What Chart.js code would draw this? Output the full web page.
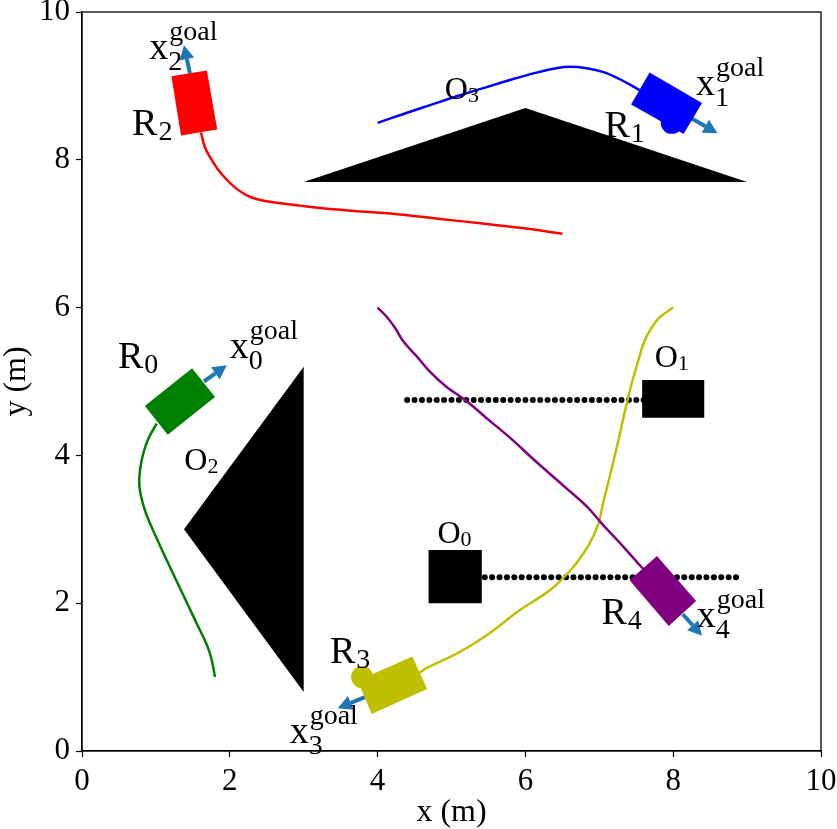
<!DOCTYPE html>
<html>
<head>
<meta charset="utf-8">
<script src="https://cdn.jsdelivr.net/npm/chart.js@4"></script>
<style>
  body { margin: 0; background: #fff; }
  canvas { display: block; }
</style>
</head>
<body>
<canvas id="grafico" width="837" height="829"></canvas>
<script>
const ticksEje = [0, 2, 4, 6, 8, 10];

// trayectorias de los robots
const trayR0x = [1.80, 1.76, 1.70, 1.55, 1.37, 1.19, 1.01, 0.875, 0.81, 0.775, 0.785, 0.83, 0.90, 1.01];
const trayR0y = [1.00, 1.21, 1.41, 1.73, 2.11, 2.49, 2.88, 3.19, 3.40, 3.60, 3.80, 4.03, 4.23, 4.43];
const trayR1x = [4.00, 4.35, 4.71, 5.07, 5.43, 5.79, 6.15, 6.42, 6.60, 6.83, 7.05, 7.28, 7.55];
const trayR1y = [8.50, 8.62, 8.74, 8.86, 8.97, 9.08, 9.18, 9.24, 9.26, 9.24, 9.19, 9.09, 8.94];
const trayR2x = [6.50, 5.93, 5.39, 4.85, 4.30, 3.40, 2.95, 2.50, 2.36, 2.23, 2.09, 1.96, 1.84, 1.73, 1.66, 1.61];
const trayR2y = [7.00, 7.08, 7.14, 7.20, 7.26, 7.33, 7.38, 7.44, 7.47, 7.52, 7.61, 7.73, 7.87, 8.04, 8.18, 8.37];
const trayR3x = [8.00, 7.82, 7.69, 7.60, 7.53, 7.44, 7.35, 7.26, 7.14, 7.05, 6.99, 6.87, 6.69, 6.51, 6.31, 5.93, 5.48, 5.11, 4.66, 4.57];
const trayR3y = [6.00, 5.87, 5.70, 5.52, 5.29, 4.98, 4.61, 4.21, 3.71, 3.35, 3.08, 2.81, 2.54, 2.34, 2.16, 1.91, 1.57, 1.34, 1.12, 1.06];
const trayR4x = [4.00, 4.12, 4.24, 4.35, 4.53, 4.71, 4.93, 5.21, 5.48, 5.79, 6.15, 6.56, 6.83, 7.05, 7.33, 7.57, 7.69];
const trayR4y = [6.00, 5.88, 5.72, 5.54, 5.34, 5.13, 4.93, 4.73, 4.50, 4.24, 3.91, 3.55, 3.31, 3.06, 2.76, 2.49, 2.38];

// cuerpos de los robots (esquinas)
const cuerpoR0x = [1.49, 1.80, 1.16, 0.85];
const cuerpoR0y = [5.18, 4.79, 4.28, 4.67];
const cuerpoR1x = [7.68, 8.39, 8.14, 7.43];
const cuerpoR1y = [9.18, 8.77, 8.35, 8.75];
const cuerpoR2x = [1.21, 1.69, 1.83, 1.34];
const cuerpoR2y = [9.13, 9.21, 8.41, 8.33];
const cuerpoR3x = [4.47, 4.67, 3.92, 3.73];
const cuerpoR3y = [1.28, 0.84, 0.50, 0.95];
const cuerpoR4x = [7.78, 8.31, 7.94, 7.41];
const cuerpoR4y = [2.64, 2.03, 1.69, 2.31];

// ruedas
const ruedaR1x = [7.98];
const ruedaR1y = [8.50];
const ruedaR3x = [3.79];
const ruedaR3y = [1.00];

// flechas hacia la meta: inicio y punta
const flechaIniX = [1.65, 8.25, 1.46, 3.83, 8.13];
const flechaIniY = [5.00, 8.56, 9.17, 0.73, 1.85];
const flechaFinX = [1.96, 8.60, 1.38, 3.46, 8.39];
const flechaFinY = [5.22, 8.36, 9.55, 0.58, 1.56];

// obstaculos
const obs0x = [4.69, 5.41, 5.41, 4.69];
const obs0y = [2.72, 2.72, 2.00, 2.00];
const obs1x = [7.58, 8.42, 8.42, 7.58];
const obs1y = [5.02, 5.02, 4.51, 4.51];
const obs2x = [3.00, 1.38, 3.00];
const obs2y = [5.20, 3.00, 0.80];
const obs3x = [3.00, 6.00, 9.00];
const obs3y = [7.70, 8.70, 7.70];

// rastro de puntos de los obstaculos moviles
const rastro0x = [5.45, 5.55, 5.65, 5.75, 5.85, 5.95, 6.05, 6.15, 6.25, 6.35, 6.45, 6.55, 6.65, 6.75, 6.85, 6.95, 7.05, 7.15, 7.25, 7.35, 7.45, 7.55, 7.65, 7.75, 7.85, 7.95, 8.05, 8.15, 8.25, 8.35, 8.45, 8.55, 8.65, 8.75, 8.85];
const rastro0y = 2.35;
const rastro1x = [4.40, 4.50, 4.60, 4.70, 4.80, 4.90, 5.00, 5.10, 5.20, 5.30, 5.40, 5.50, 5.60, 5.70, 5.80, 5.90, 6.00, 6.10, 6.20, 6.30, 6.40, 6.50, 6.60, 6.70, 6.80, 6.90, 7.00, 7.10, 7.20, 7.30, 7.40, 7.50, 7.60];
const rastro1y = 4.75;

// etiquetas
const subR = ['0', '1', '2', '3', '4'];
const etiquetaRx = [0.487, 7.07, 0.677, 3.355, 7.03];
const etiquetaRy = [5.18, 8.31, 8.335, 1.19, 1.72];
const subO = ['0', '1', '2', '3'];
const etiquetaOx = [4.81, 7.75, 1.385, 4.91];
const etiquetaOy = [2.81, 5.20, 3.80, 8.82];
const subX = ['0', '1', '2', '3', '4'];
const etiquetaXx = [2.00, 8.31, 0.91, 2.81, 8.32];
const etiquetaXy = [5.32, 8.88, 9.37, 0.11, 1.68];

const fuente = '"Liberation Serif"';
const colores = ['#008000', '#0000ff', '#ff0000', '#bfbf00', '#800080'];
const azulFlecha = '#1f77b4';

function puntos(xs, ys) {
    return xs.map((x, i) => ({ x: x, y: Array.isArray(ys) ? ys[i] : ys }));
}

function poligono(xs, ys, color) {
    const p = puntos(xs, ys);
    p.push(p[0]);
    return { data: p, showLine: true, fill: 'shape', backgroundColor: color, borderColor: color, borderWidth: 0, pointRadius: 0, tension: 0 };
}

function linea(xs, ys, color, ancho, tension) {
    return { data: puntos(xs, ys), showLine: true, fill: false, borderColor: color, borderWidth: ancho, pointRadius: 0, tension: tension };
}

function flecha(i) {
    const dx = flechaFinX[i] - flechaIniX[i];
    const dy = flechaFinY[i] - flechaIniY[i];
    const largo = Math.hypot(dx, dy);
    const ux = dx / largo, uy = dy / largo;
    const bx = flechaFinX[i] - ux * 0.19, by = flechaFinY[i] - uy * 0.19;
    return [
        linea([flechaIniX[i], bx], [flechaIniY[i], by], azulFlecha, 4, 0),
        poligono(
            [flechaFinX[i], bx - uy * 0.1, bx + uy * 0.1],
            [flechaFinY[i], by + ux * 0.1, by - ux * 0.1],
            azulFlecha
        )
    ];
}

function circulo(xs, ys, color) {
    return { data: puntos(xs, ys), showLine: false, pointRadius: 11, pointBackgroundColor: color, pointBorderWidth: 0 };
}

function rastro(xs, y) {
    return { data: puntos(xs, y), showLine: false, pointRadius: 3, pointBackgroundColor: '#000', pointBorderWidth: 0 };
}

// en orden de dibujo, del fondo al frente
const capas = [
    rastro(rastro0x, rastro0y),
    rastro(rastro1x, rastro1y),
    poligono(obs0x, obs0y, '#000'),
    poligono(obs1x, obs1y, '#000'),
    poligono(obs2x, obs2y, '#000'),
    poligono(obs3x, obs3y, '#000'),
    linea(trayR0x, trayR0y, colores[0], 2.5, 0.4),
    linea(trayR1x, trayR1y, colores[1], 2.5, 0.4),
    linea(trayR2x, trayR2y, colores[2], 2.5, 0.4),
    linea(trayR3x, trayR3y, colores[3], 2.5, 0.4),
    linea(trayR4x, trayR4y, colores[4], 2.5, 0.4)
];
flechaIniX.forEach((_, i) => capas.push(...flecha(i)));
capas.push(
    poligono(cuerpoR0x, cuerpoR0y, colores[0]),
    poligono(cuerpoR1x, cuerpoR1y, colores[1]),
    poligono(cuerpoR2x, cuerpoR2y, colores[2]),
    poligono(cuerpoR3x, cuerpoR3y, colores[3]),
    poligono(cuerpoR4x, cuerpoR4y, colores[4]),
    circulo(ruedaR1x, ruedaR1y, colores[1]),
    circulo(ruedaR3x, ruedaR3y, colores[3])
);

function texto(ctx, t, x, y, tam) {
    ctx.font = tam + 'px ' + fuente;
    ctx.fillText(t, x, y);
    return ctx.measureText(t).width;
}

const marco = {
    id: 'marco',
    afterDraw(chart) {
        const { ctx, chartArea: a } = chart;
        ctx.save();
        ctx.strokeStyle = '#000';
        ctx.lineWidth = 1.3;
        ctx.strokeRect(a.left, a.top, a.right - a.left, a.bottom - a.top);
        ctx.restore();
    }
};

const etiquetas = {
    id: 'etiquetas',
    afterDraw(chart) {
        const { ctx, scales } = chart;
        const px = v => scales.x.getPixelForValue(v);
        const py = v => scales.y.getPixelForValue(v);
        ctx.save();
        ctx.fillStyle = '#000';
        ctx.textBaseline = 'alphabetic';
        ctx.textAlign = 'left';
        subR.forEach((s, i) => {
            const x = px(etiquetaRx[i]), y = py(etiquetaRy[i]);
            const w = texto(ctx, 'R', x, y, 38);
            texto(ctx, s, x + w + 1, y + 5, 28);
        });
        subO.forEach((s, i) => {
            const x = px(etiquetaOx[i]), y = py(etiquetaOy[i]);
            const w = texto(ctx, 'O', x, y, 32);
            texto(ctx, s, x + w, y + 3, 22);
        });
        subX.forEach((s, i) => {
            const x = px(etiquetaXx[i]), y = py(etiquetaXy[i]);
            const w = texto(ctx, 'x', x, y, 38);
            texto(ctx, s, x + w, y + 11, 28);
            texto(ctx, 'goal', x + w + 1, y - 19, 28);
        });
        ctx.restore();
    }
};

function eje(titulo, posicion, ajuste) {
    return {
        type: 'linear',
        position: posicion,
        min: 0,
        max: 10,
        afterBuildTicks: scale => { scale.ticks = ticksEje.map(v => ({ value: v })); },
        afterFit: scale => {
            ajuste(scale);
            scale.paddingTop = 0;
            scale.paddingBottom = 0;
            scale.paddingLeft = 0;
            scale.paddingRight = 0;
        },
        grid: { drawOnChartArea: false, drawTicks: true, tickLength: 6, tickColor: '#000', tickWidth: 1.2 },
        border: { display: true, color: '#000', width: 1.3 },
        ticks: { color: '#000', font: { family: fuente, size: 31 }, padding: 6, maxRotation: 0, autoSkip: false },
        title: { display: true, text: titulo, color: '#000', font: { family: fuente, size: 32, lineHeight: 1 }, padding: { top: 1, bottom: 0 } }
    };
}

const ctx = document.getElementById('grafico').getContext('2d');
window.chart = new Chart(ctx, {
    type: 'scatter',
    data: { datasets: capas.slice().reverse() },
    options: {
        responsive: false,
        animation: false,
        devicePixelRatio: 1,
        layout: { padding: { top: 12, right: 16, left: 0, bottom: 0 } },
        plugins: { legend: { display: false }, tooltip: { enabled: false } },
        scales: {
            x: eje('x (m)', 'bottom', s => { s.height = 78; }),
            y: eje('y (m)', 'left', s => { s.width = 82; })
        }
    },
    plugins: [marco, etiquetas]
});
</script>
</body>
</html>
